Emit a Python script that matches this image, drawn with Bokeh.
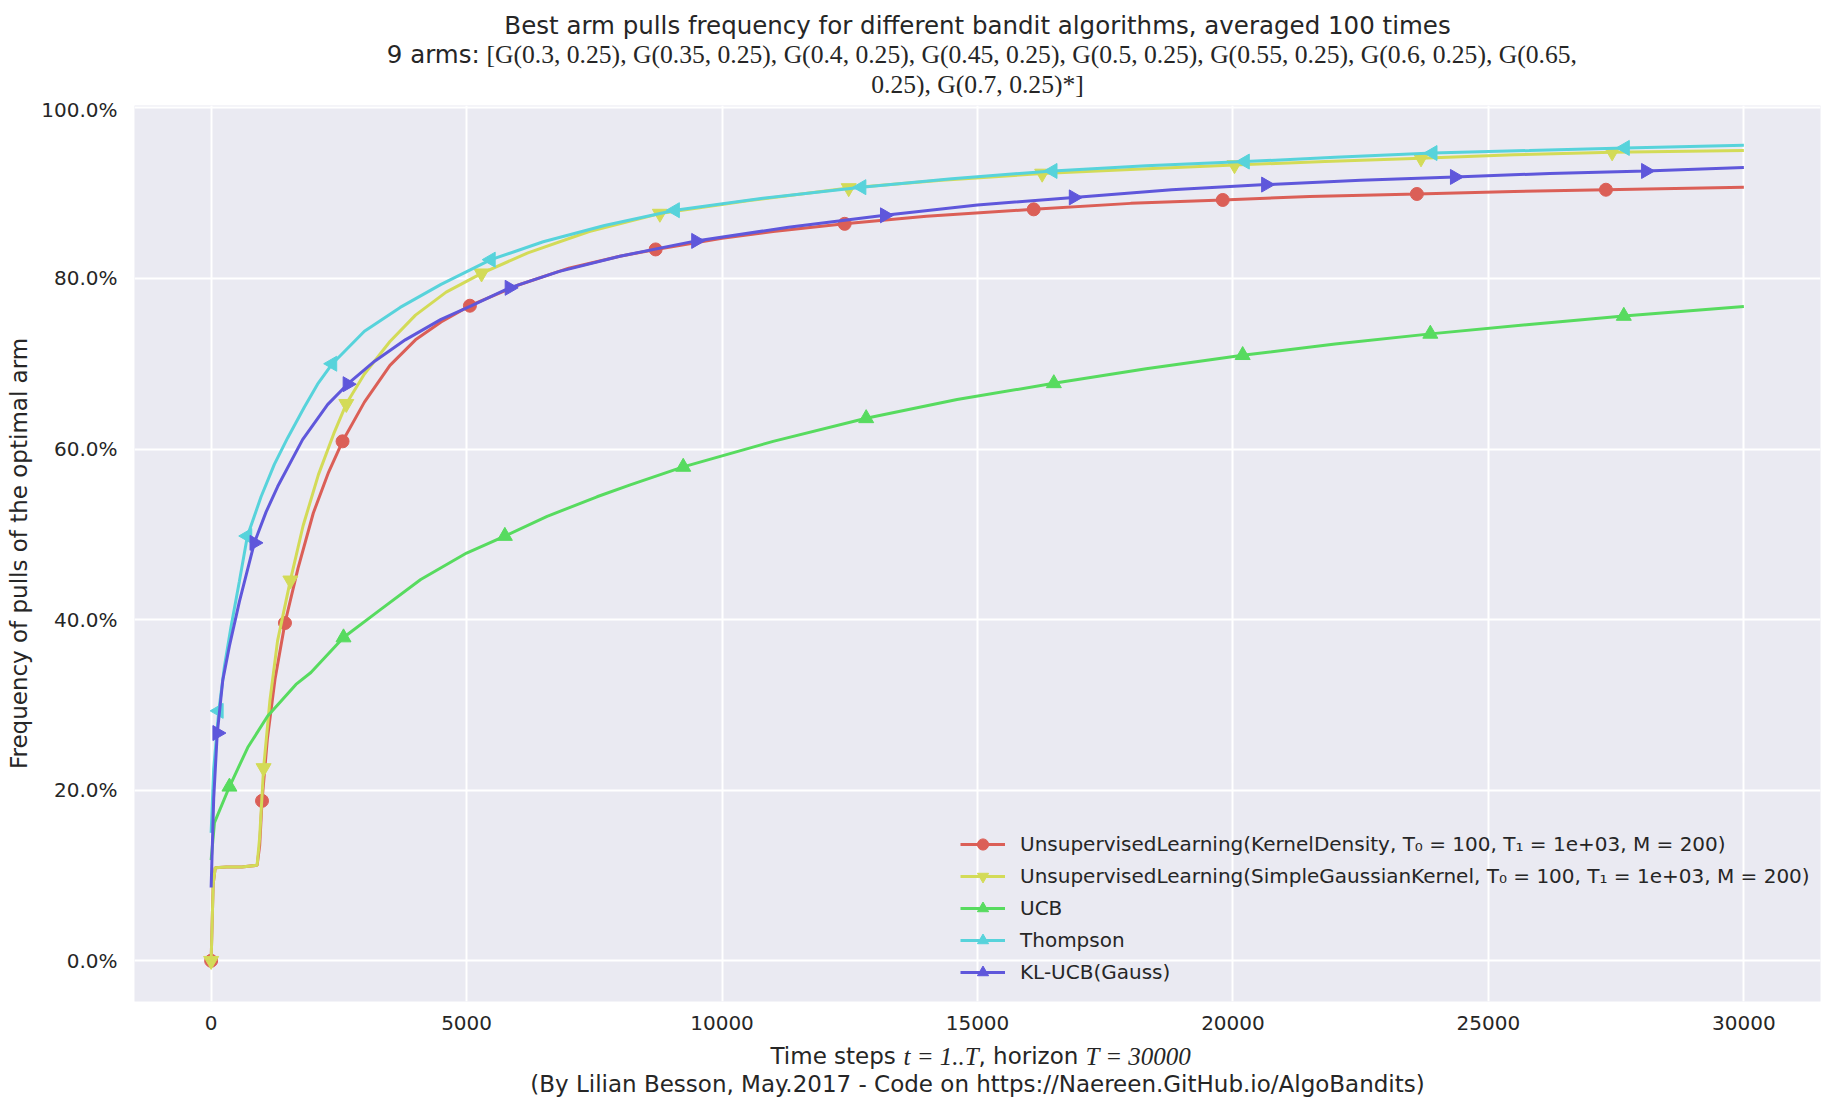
import math
from bokeh.plotting import figure
from bokeh.layouts import column
from bokeh.models import (Label, Legend, LegendItem, FixedTicker,
                          NumeralTickFormatter, Range1d, ColumnDataSource)
from bokeh.embed import file_html
from bokeh.resources import INLINE

# ---------------- data (y in percent) ----------------
x_ticks = [0, 5000, 10000, 15000, 20000, 25000, 30000]
y_ticks = [0.0, 0.2, 0.4, 0.6, 0.8, 1.0]

# UnsupervisedLearning(KernelDensity)
kd_x = [0, 40, 80, 300, 600, 900, 950, 1100, 1250, 1700, 2000, 2300, 3000, 3500,
        4000, 4500, 6000, 7000, 8000, 10000, 11000, 14000, 18000, 21500, 25500, 30000]
kd_y = [0, 9.0, 10.9, 11.0, 11.0, 11.2, 13.5, 26, 33, 46, 52.5, 57.3, 65.5, 69.8,
        72.8, 74.9, 79.2, 81.2, 82.6, 84.7, 85.5, 87.3, 88.8, 89.6, 90.2, 90.7]
kd_mx = [0, 996, 1445, 2572, 5065, 8700, 12400, 16100, 19800, 23600, 27300]
kd_my = [0, 18.75, 39.6, 60.9, 76.8, 83.4, 86.4, 88.1, 89.2, 89.9, 90.4]

# UnsupervisedLearning(SimpleGaussianKernel)
ug_x = [0, 40, 80, 300, 600, 900, 950, 1150, 1300, 1800, 2100, 2400, 3000, 3500,
        4000, 4600, 6200, 7400, 10500, 14300, 18100, 21800, 25500, 30000]
ug_y = [0, 9.0, 10.9, 11.0, 11.0, 11.2, 14.5, 30.5, 37.5, 51, 57, 61.8, 68.8, 72.6,
        75.7, 78.4, 83, 85.5, 89.1, 91.5, 92.8, 93.7, 94.5, 95.0]
ug_mx = [0, 1027, 1551, 2646, 5293, 8783, 12479, 16266, 20030, 23681, 27422]
ug_my = [0, 22.6, 44.6, 65.3, 80.6, 87.6, 90.6, 92.3, 93.3, 94.1, 94.8]

# UCB
ucb_x = [0, 65, 716, 1107, 1660, 1953, 3320, 4102, 5000, 6576, 7552, 8203, 11000,
         14600, 18300, 22000, 25800, 30000]
ucb_y = [11.8, 16.2, 25, 28.7, 32.4, 33.8, 41.2, 44.7, 47.8, 52.1, 54.4, 55.8, 60.9,
         65.8, 69.4, 72.3, 74.6, 76.7]
ucb_mx = [358, 2591, 5749, 9240, 12821, 16494, 20190, 23863, 27650]
ucb_my = [20.4, 37.9, 49.8, 57.9, 63.6, 67.7, 71.0, 73.5, 75.6]

# Thompson
ts_x = [0, 50, 260, 390, 553, 977, 1237, 1497, 1823, 2083, 3000, 3700, 4500, 6500,
        7700, 10800, 14500, 18300, 22000, 25800, 30000]
ts_y = [15, 22.5, 34.5, 39.2, 44.5, 54.4, 58.2, 61.3, 64.9, 67.6, 73.8, 76.6, 79.3,
        84.3, 86.2, 89.4, 91.7, 93.2, 94.2, 95.0, 95.6]
ts_mx = [150, 710, 2373, 5475, 9080, 12730, 16471, 20235, 23909, 27673]
ts_my = [29.3, 49.8, 70, 82.2, 88.0, 90.7, 92.6, 93.7, 94.7, 95.3]

# KL-UCB(Gauss)
kl_x = [0, 50, 228, 358, 553, 1074, 1302, 1790, 2279, 3200, 3800, 4500, 5100, 6800,
        8000, 11300, 15000, 18800, 22500, 26200, 30000]
kl_y = [8.6, 19, 32.9, 36.9, 42.1, 52.6, 55.6, 61.1, 65.2, 70.3, 72.8, 75.2, 76.8,
        80.8, 82.6, 86, 88.6, 90.4, 91.5, 92.3, 93.0]
kl_mx = [120, 846, 2669, 5840, 9491, 13186, 16882, 20646, 24342, 28083]
kl_my = [26.7, 49, 67.6, 78.9, 84.4, 87.4, 89.5, 91.0, 91.9, 92.6]

labels = [
    "UnsupervisedLearning(KernelDensity, T\u2080 = 100, T\u2081 = 1e+03, M = 200)",
    "UnsupervisedLearning(SimpleGaussianKernel, T\u2080 = 100, T\u2081 = 1e+03, M = 200)",
    "UCB",
    "Thompson",
    "KL-UCB(Gauss)",
]
colors = ["#db5f57", "#d3db57", "#57db5f", "#57d3db", "#5f57db"]

# ---------------- layout ----------------
W = 1832
TOP_H = 97            # title strip height
MAIN_TOP = TOP_H      # page y where main figure starts
FT, FB = 105, 1001    # frame top / bottom in page pixels
MAIN_BOT = 1040       # page y where main figure ends
BOT_H = 1109 - MAIN_BOT
FL, FR = 134, 1820
X0, X1 = -1500, 31500
Y0, Y1 = -0.04775, 1.00275
INK = "#262626"
SANS = "DejaVu Sans"
SERIF = "Liberation Serif"
TOP_SHIFT = 4.5       # measured rendering offset of strip texts
BOT_SHIFT = 9.5


def strip(height):
    # frames of a column are aligned with the main frame (FL..FR)
    f = figure(width=W, height=height, output_backend="svg", toolbar_location=None,
               x_range=Range1d(FL, FR), y_range=Range1d(height, 0),
               x_axis_type=None, y_axis_type=None, min_border=0,
               min_border_left=FL, min_border_right=W - FR)
    f.title.visible = False
    f.outline_line_color = None
    f.background_fill_color = "white"
    f.border_fill_color = "white"
    return f


def lab(f, px, py, text, font=SANS, size="24px", align="center", style="normal"):
    f.add_layout(Label(x=px, y=py, text=text, text_font=font, text_font_size=size,
                       text_color=INK, text_align=align, text_font_style=style,
                       text_baseline="alphabetic"))


CX = (FL + FR) / 2

# ---- title strip ----
top = strip(TOP_H)
lab(top, CX, 29 - TOP_SHIFT,
    "Best arm pulls frequency for different bandit algorithms, averaged 100 times",
    size="24.5px")
lab(top, 487, 58 - TOP_SHIFT, "9 arms: ", size="24.5px", align="right")
lab(top, 486, 58 - TOP_SHIFT,
    "[G(0.3, 0.25), G(0.35, 0.25), G(0.4, 0.25), G(0.45, 0.25), "
    "G(0.5, 0.25), G(0.55, 0.25), G(0.6, 0.25), G(0.65,",
    font=SERIF, size="25.6px", align="left")
lab(top, CX, 88 - TOP_SHIFT, "0.25), G(0.7, 0.25)*]", font=SERIF, size="25.6px")

# ---- main plot ----
p = figure(width=W, height=MAIN_BOT - MAIN_TOP, output_backend="svg",
           toolbar_location=None, x_range=Range1d(X0, X1), y_range=Range1d(Y0, Y1),
           min_border_left=FL, min_border_right=W - FR,
           min_border_top=FT - MAIN_TOP, min_border_bottom=MAIN_BOT - FB)
p.title.visible = False
p.background_fill_color = "#EAEAF2"
p.border_fill_color = "white"
p.outline_line_color = None

for ax in (p.xaxis, p.yaxis):
    ax.axis_line_color = None
    ax.major_tick_line_color = None
    ax.minor_tick_line_color = None
    ax.major_tick_out = 0
    ax.major_tick_in = 0
    ax.major_label_text_font = SANS
    ax.major_label_text_font_size = "20px"
    ax.major_label_text_color = INK
p.xaxis.ticker = FixedTicker(ticks=x_ticks)
p.yaxis.ticker = FixedTicker(ticks=y_ticks)
p.xaxis.formatter = NumeralTickFormatter(format="0")
p.yaxis.formatter = NumeralTickFormatter(format="0.0%")
p.xaxis.major_label_standoff = 14
p.yaxis.major_label_standoff = 17
p.yaxis.axis_label = "Frequency of pulls of the optimal arm"
p.yaxis.axis_label_text_font = SANS
p.yaxis.axis_label_text_font_size = "23px"
p.yaxis.axis_label_text_font_style = "normal"
p.yaxis.axis_label_text_color = INK
p.yaxis.axis_label_standoff = 6
p.grid.grid_line_color = "white"
p.grid.grid_line_width = 2
p.xgrid.ticker = FixedTicker(ticks=x_ticks)
p.ygrid.ticker = FixedTicker(ticks=y_ticks)


def merged(lx, ly, mx, my):
    d = {x: y for x, y in zip(lx, ly)}
    for x, y in zip(mx, my):
        d[x] = y
    xs = sorted(d)
    return xs, [d[x] / 100.0 for x in xs]


series = [
    (kd_x, kd_y, kd_mx, kd_my, "circle", 0.0, 13),
    (ug_x, ug_y, ug_mx, ug_my, "inverted_triangle", 0.0, 15),
    (ucb_x, ucb_y, ucb_mx, ucb_my, "triangle", 0.0, 15),
    (ts_x, ts_y, ts_mx, ts_my, "triangle", math.pi / 2, 15),
    (kl_x, kl_y, kl_mx, kl_my, "triangle", -math.pi / 2, 15),
]

items = []
for (lx, ly, mx, my, mk, ang, sz), col, lb in zip(series, colors, labels):
    xs, ys = merged(lx, ly, mx, my)
    ln = p.line(xs, ys, line_color=col, line_width=3)
    msrc = ColumnDataSource(dict(x=mx, y=[v / 100.0 for v in my],
                                 a=[ang] * len(mx)))
    sc = p.scatter("x", "y", source=msrc, marker=mk, angle="a", size=sz,
                   fill_color=col, line_color=col)
    items.append(LegendItem(label=lb, renderers=[ln, sc], index=0))

legend = Legend(items=items, location=(826, 15), padding=0, margin=0,
                spacing=4, label_height=28, glyph_height=28, glyph_width=45,
                label_standoff=15, label_text_font=SANS,
                label_text_font_size="20px", label_text_color=INK,
                background_fill_alpha=0, border_line_alpha=0)
p.add_layout(legend, "center")

# ---- x label strip ----
bot = strip(BOT_H)
b1 = 1065 - MAIN_BOT - BOT_SHIFT
b2 = 1093 - MAIN_BOT - BOT_SHIFT
lab(bot, 770, b1, "Time steps ", size="23px", align="left")
lab(bot, 903, b1, "t = 1..T", font=SERIF, size="25px", align="left", style="italic")
lab(bot, 978, b1, ", horizon ", size="23px", align="left")
lab(bot, 1085, b1, "T = 30000", font=SERIF, size="25px", align="left", style="italic")
lab(bot, CX, b2,
    "(By Lilian Besson, May.2017 - Code on https://Naereen.GitHub.io/AlgoBandits)",
    size="23px")

layout = column(top, p, bot, spacing=0)
open("out.html", "w").write(file_html(layout, INLINE))
